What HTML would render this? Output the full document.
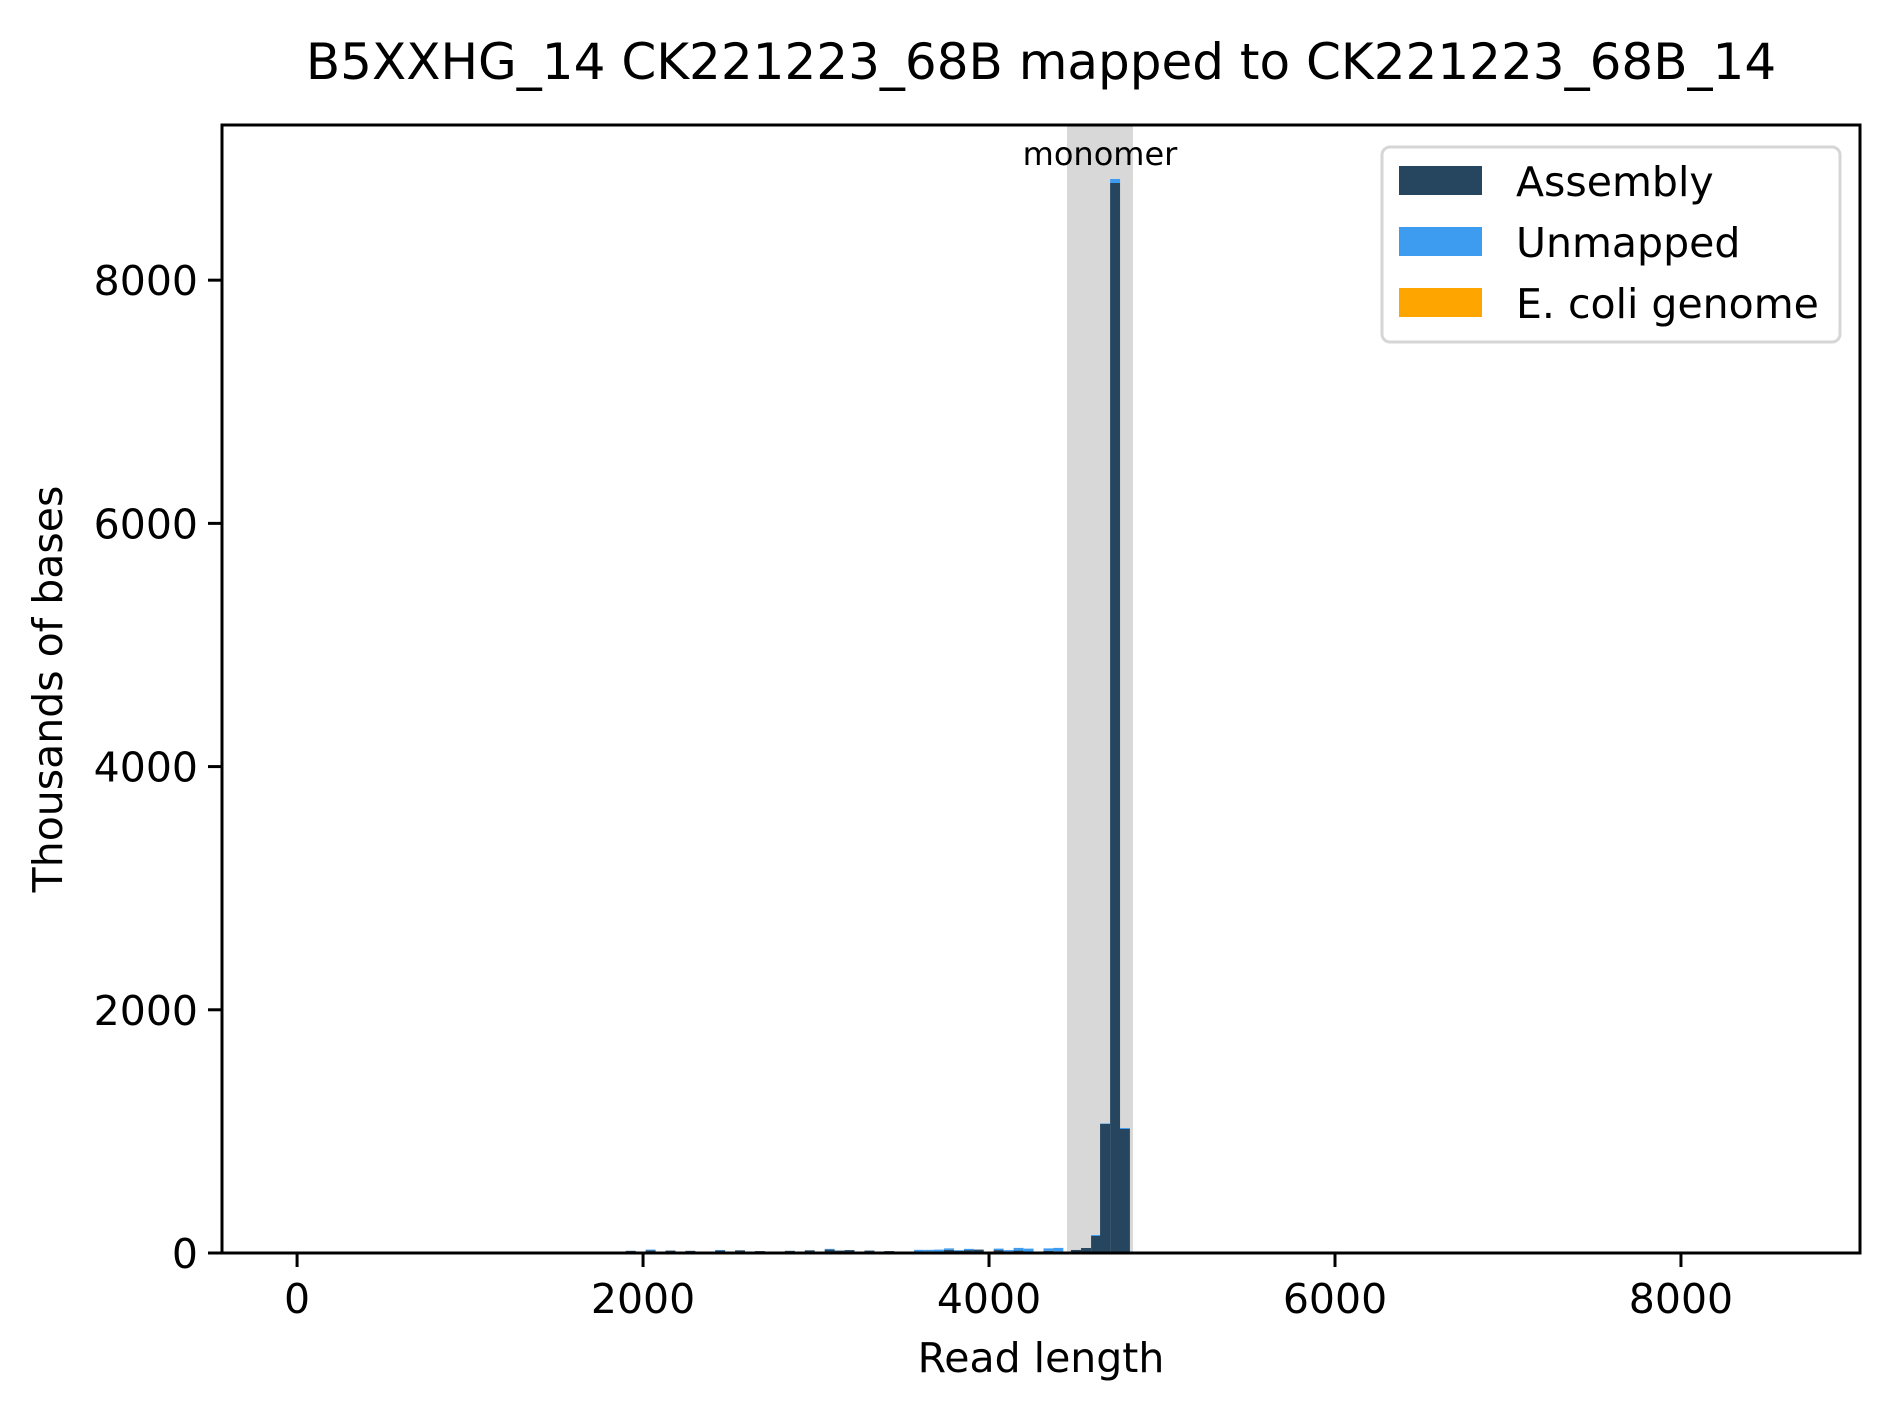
<!DOCTYPE html>
<html><head><meta charset="utf-8"><style>
html,body{margin:0;padding:0;background:#fff;}
svg{display:block;font-family:"DejaVu Sans","Liberation Sans",sans-serif;}
</style></head><body>
<svg id="chart" width="1890" height="1409" viewBox="0 0 1890 1409" xmlns="http://www.w3.org/2000/svg">
<rect width="1890" height="1409" fill="#fff"/>
<g id="band"></g>
<g id="bars"></g>
<g id="axes"></g>
</svg>
<script>
const binEdges = [1900,1957,2015,2072,2130,2187,2245,2302,2360,2417,2475,2532,2590,2647,2705,2762,2820,2877,2935,2992,3050,3107,3165,3222,3280,3337,3395,3452,3510,3567,3625,3682,3740,3797,3855,3912,3970,4027,4085,4142,4200,4257,4315,4372,4474,4532,4590,4642,4700,4757];
const assemblyVals = [18,0,22,0,20,0,18,0,0,20,0,22,0,16,0,0,18,0,22,0,28,20,24,0,20,0,16,0,0,12,14,10,26,18,24,28,0,24,14,20,10,0,18,14,25,41,140,1061,8799,1020];
const unmappedVals = [0,0,6,0,0,0,0,0,0,5,0,0,0,0,0,0,0,0,0,0,6,0,0,0,0,0,0,0,0,14,12,18,12,6,10,0,0,12,10,22,26,0,20,28,0,0,8,4,33,8];
const ecoliVals = [0,0,0,0,0,0,0,0,0,0,0,0,0,0,0,0,0,0,0,0,0,0,0,0,0,0,0,0,0,0,0,0,0,0,0,0,0,0,0,0,0,0,0,0,0,0,0,0,0,0];
const binWidth = 57.5;
const xTicks = [0,2000,4000,6000,8000];
const yTicks = [0,2000,4000,6000,8000];
const bandRange = [4451,4832];
const seriesNames = ["Assembly","Unmapped","E. coli genome"];

const NS="http://www.w3.org/2000/svg";
const L=222,R=1860,T=125,B=1253;
const X0=-434,X1=9035,Y0=0,Y1=9276;
function xs(v){return L+(v-X0)/(X1-X0)*(R-L);}
function ys(v){return B-(v-Y0)/(Y1-Y0)*(B-T);}
function mk(tag,attrs,parent){const e=document.createElementNS(NS,tag);for(const k in attrs)e.setAttribute(k,attrs[k]);parent.appendChild(e);return e;}
const gBand=document.getElementById('band'),gBars=document.getElementById('bars'),gAx=document.getElementById('axes');

const band=mk('rect',{x:xs(bandRange[0]),y:T,width:xs(bandRange[1])-xs(bandRange[0]),height:B-T,fill:'#d8d8d8'},gBand);



const colors=['#26465f','#3d9cf0','#ffa500'];
binEdges.forEach((e,i)=>{
  const x=xs(e),w=xs(e+binWidth)-xs(e);
  let base=0;
  [assemblyVals[i],unmappedVals[i],ecoliVals[i]].forEach((v,s)=>{
    if(v<=0)return;
    const r=mk('rect',{x:x,y:ys(base+v),width:w,height:ys(base)-ys(base+v),fill:colors[s]},gBars);
    
    
    base+=v;
  });
});

const mono=mk('text',{x:(xs(bandRange[0])+xs(bandRange[1]))/2,y:165,'font-size':32,'text-anchor':'middle',fill:'#000'},gAx);
mono.textContent='monomer';



const frame=mk('rect',{x:L,y:T,width:R-L,height:B-T,fill:'none',stroke:'#000','stroke-width':3},gAx);



xTicks.forEach(t=>{
  const x=xs(t);
  const tk=mk('line',{x1:x,x2:x,y1:B,y2:B+14,stroke:'#000','stroke-width':3},gAx);
  
  
  const tx=mk('text',{x:x,y:1313,'font-size':41,'text-anchor':'middle'},gAx);
  tx.textContent=t;
  
  
});
yTicks.forEach(t=>{
  const y=ys(t);
  const tk=mk('line',{x1:L-14,x2:L,y1:y,y2:y,stroke:'#000','stroke-width':3},gAx);
  
  
  const tx=mk('text',{x:L-24,y:y+15,'font-size':41,'text-anchor':'end'},gAx);
  tx.textContent=t;
  
  
});

const title=mk('text',{x:(L+R)/2,y:79,'font-size':50,'text-anchor':'middle'},gAx);
title.textContent='B5XXHG_14 CK221223_68B mapped to CK221223_68B_14';



const xl=mk('text',{x:(L+R)/2,y:1372,'font-size':41,'text-anchor':'middle'},gAx);
xl.textContent='Read length';



const yl=mk('text',{x:0,y:0,'font-size':41,'text-anchor':'middle',transform:'translate(62,'+((T+B)/2)+') rotate(-90)'},gAx);
yl.textContent='Thousands of bases';



const lg=mk('g',{},gAx);


mk('rect',{x:1382,y:147,width:458,height:195,rx:8,fill:'#fff','fill-opacity':0.8,stroke:'#d6d6d6','stroke-width':3},lg);
seriesNames.forEach((n,i)=>{
  const y0=166+i*61;
  const sw=mk('rect',{x:1399,y:y0,width:83,height:29,fill:colors[i]},lg);
  
  
  const t=mk('text',{x:1516,y:y0+30,'font-size':41},lg);
  t.textContent=n;
  
  
});
</script>
</body></html>
